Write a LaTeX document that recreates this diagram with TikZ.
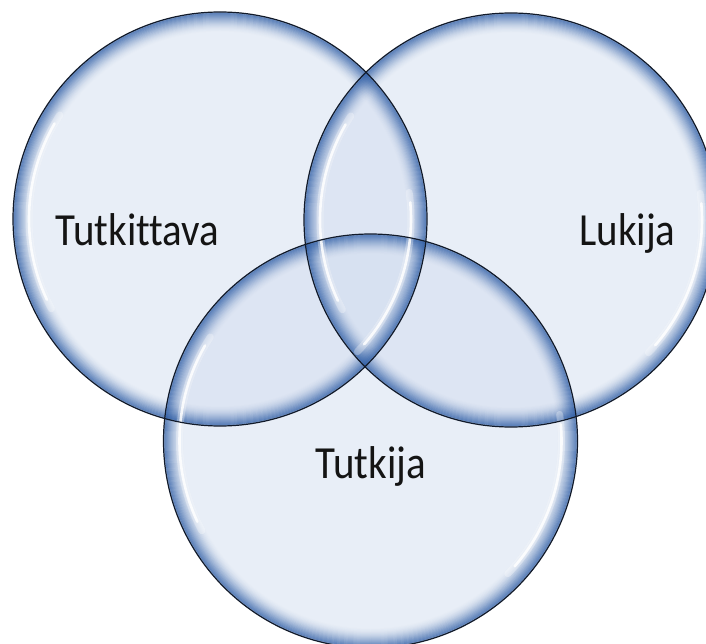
\documentclass[tikz,border=0pt]{standalone}
\usepackage{fontspec}
\setmainfont{Carlito}[FakeStretch=0.89, Ligatures=CommonOff]

\definecolor{glassbase}{HTML}{D3DEF0}
\definecolor{glassrim}{HTML}{2F5EA6}
\definecolor{glassline}{HTML}{111A2A}

\tikzset{
  discbase/.style={fill=glassbase, fill opacity=0.5},
  discglow/.style={draw=white, line width=7pt, line cap=round, draw opacity=0.3},
  discshine/.style={draw=white, line width=2.6pt, line cap=round, draw opacity=0.85},
  discedge/.style={draw=glassline, line width=1.2pt},
  setlabel/.style={font=\fontsize{46}{50}\selectfont, text=black!92, anchor=base, inner sep=0pt}
}

\newcommand{\discR}{207}
\newcommand{\shineR}{191}

\begin{document}
\begin{tikzpicture}[x=1pt, y=-1pt]
  \useasboundingbox (0,0) rectangle (706,644);
  \fill[white] (0,0) rectangle (706,644);
  \begin{scope}
    \clip (0,0) rectangle (706,644);

    \coordinate (tutkittava) at (220,219);
    \coordinate (lukija) at (511,220);
    \coordinate (tutkija) at (370.5,441);

    % translucent bodies: overlaps darken naturally
    \foreach \c in {tutkittava, lukija, tutkija}
      \fill[discbase] (\c) circle[radius=\discR];

    % darker rim, built from overlapping thin rings that fade inwards
    \foreach \c in {tutkittava, lukija, tutkija}
      \foreach \i in {0,...,19} {
        \pgfmathsetmacro{\ringR}{\discR-1-\i}
        \pgfmathsetmacro{\ringA}{0.5*(1-\i/20)^2}
        \draw[glassrim, line width=2pt, draw opacity=\ringA] (\c) circle[radius=\ringR];
      }

    % glossy highlights, left and lower right
    \foreach \c in {tutkittava, lukija, tutkija} {
      \draw[discglow]  (\c) ++(152:\shineR) arc[start angle=152, end angle=213, radius=\shineR];
      \draw[discshine] (\c) ++(155:\shineR) arc[start angle=155, end angle=210, radius=\shineR];
      \draw[discglow]  (\c) ++(-8:\shineR) arc[start angle=-8, end angle=44, radius=\shineR];
      \draw[discshine] (\c) ++(-5:\shineR) arc[start angle=-5, end angle=41, radius=\shineR];
    }

    % outlines
    \foreach \c in {tutkittava, lukija, tutkija}
      \draw[discedge] (\c) circle[radius=\discR];
  \end{scope}

  \node[setlabel] (lblA) at (137.5,245) {Tutkittava};
  \node[setlabel] (lblB) at (627.5,245) {Lukija};
  \node[setlabel] (lblC) at (371,478) {Tutkija};
\end{tikzpicture}
\end{document}
